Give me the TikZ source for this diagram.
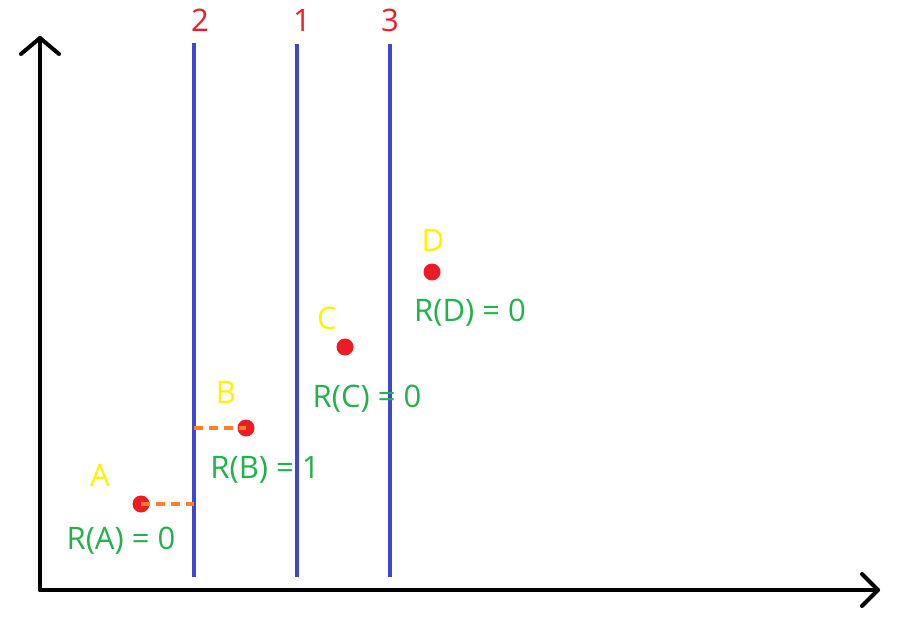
\documentclass[tikz,border=0pt]{standalone}
\usepackage{fontspec}
\setmainfont{Open Sans}
\definecolor{axisblue}{HTML}{3F48CC}
\definecolor{ptred}{HTML}{ED1C24}
\definecolor{lblyellow}{HTML}{FFF200}
\definecolor{rgreen}{HTML}{22B14C}
\definecolor{dashorange}{HTML}{FF7F27}
\begin{document}
\begin{tikzpicture}[x=1pt,y=-1pt,
  axisline/.style={line width=4pt,black,line cap=round,line join=round},
  splitline/.style={line width=4.5pt,axisblue},
  pt/.style={circle,fill=ptred,inner sep=0pt,minimum size=17pt},
  ptlabel/.style={text=lblyellow,font=\fontsize{31}{33}\selectfont,inner sep=0pt},
  rlabel/.style={text=rgreen,font=\fontsize{31}{33}\selectfont,inner sep=0pt},
  numlabel/.style={text=ptred,font=\fontsize{31}{33}\selectfont,inner sep=0pt},
  dist/.style={line width=4pt,dashorange,dash pattern=on 9pt off 6pt}]
\useasboundingbox (0,0) rectangle (907,627);
% axes
\coordinate (o) at (40,590);
\coordinate (ytop) at (40,38);
\coordinate (xend) at (878,590);
\draw[axisline] (o) -- (ytop);
\draw[axisline] (o) -- (xend);
\draw[axisline] (21,54) -- (ytop) -- (59,54);
\draw[axisline] (862,574) -- (xend) -- (862,606);
% split lines
\coordinate (l2t) at (194,43); \coordinate (l2b) at (194,577);
\coordinate (l1t) at (297,44); \coordinate (l1b) at (297,577);
\coordinate (l3t) at (390,44); \coordinate (l3b) at (390,577);
\draw[splitline] (l2t) -- (l2b);
\draw[splitline] (l1t) -- (l1b);
\draw[splitline] (l3t) -- (l3b);
\node[numlabel] (n2) at (200,20) {2};
\node[numlabel] (n1) at (302,20) {1};
\node[numlabel] (n3) at (390,20) {3};
% points
\node[pt] (A) at (141,504) {};
\node[pt] (B) at (246,428) {};
\node[pt] (C) at (345,347) {};
\node[pt] (D) at (432,272) {};
\node[ptlabel] (la) at (100,475) {A};
\node[ptlabel] (lb) at (226,392) {B};
\node[ptlabel] (lc) at (327,318) {C};
\node[ptlabel] (ld) at (433,240) {D};
\node[rlabel] (ra) at (121,541) {R(A) = 0};
\node[rlabel] (rb) at (265,470) {R(B) = 1};
\node[rlabel] (rc) at (367,399) {R(C) = 0};
\node[rlabel] (rd) at (470,313) {R(D) = 0};
% distances
\coordinate (pa) at (194,504);
\coordinate (pb) at (194,428);
\draw[dist] (A.center) -- (pa);
\draw[dist] (pb) -- (B.center);
\end{tikzpicture}
\end{document}
